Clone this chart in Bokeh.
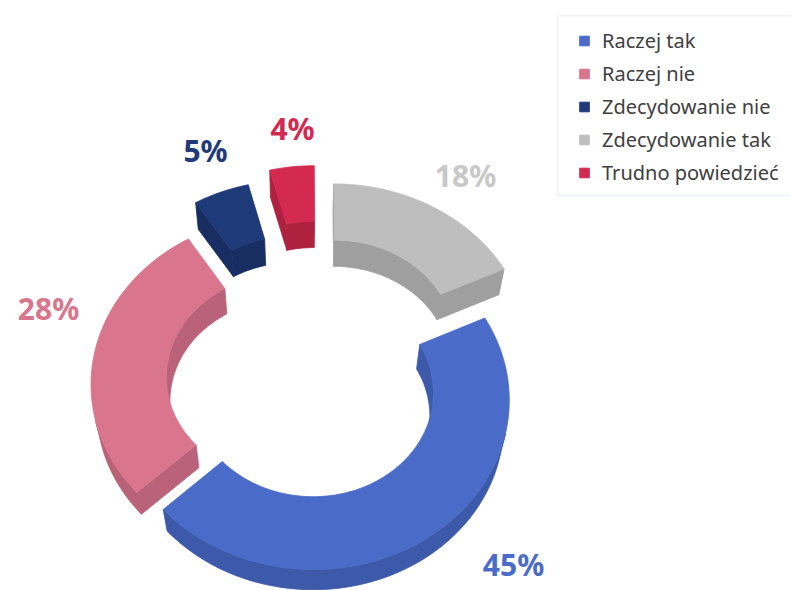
import numpy as np
from bokeh.plotting import figure
from bokeh.models import Range1d, Legend, LegendItem, ColumnDataSource, BoxAnnotation
from bokeh.embed import file_html
from bokeh.resources import INLINE
from bokeh.core.properties import value

# ---------------- data ----------------
categories = ["Raczej tak", "Raczej nie", "Zdecydowanie nie", "Zdecydowanie tak", "Trudno powiedzieć"]
shares = [45, 28, 5, 18, 4]
pct_labels = ["45%", "28%", "5%", "18%", "4%"]
ring_order = [3, 0, 1, 2, 4]          # clockwise from 12 o'clock

# ---------------- style ----------------
top_colors = ["#4a6cc8", "#d9768d", "#1f3a78", "#bebebe", "#d42a52"]
side_colors = ["#3d59a9", "#b9627a", "#182e62", "#9f9f9f", "#b0213f"]
text_colors = ["#4a6cc8", "#d9768d", "#1f3a78", "#c8c8c8", "#d42a52"]
explode = [(12, -18), (-14, 0), (-8, 48), (36, 43), (15, 68)]     # world units
label_pos = [(513, 564), (48, 308), (205, 150), (465, 175), (292, 128)]  # page px

W, H = 791, 590
CX, CY = 300.0, 372.0
R_OUT, R_IN = 195.0, 120.0
TILT = np.radians(59)
SIN, COS = np.sin(TILT), np.cos(TILT)
DIST = 1500.0
DEPTH = 48.0
START = 0.0


def project(X, Y, Z):
    k = DIST / (DIST + Y * COS - Z * SIN)
    return CX + X * k, CY - (Y * SIN + Z * COS) * k


def ring_pts(t, rho, ox, oy, z):
    rad = np.radians(t)
    return project(rho * np.sin(rad) + ox, rho * np.cos(rad) + oy, z)


def signed_area(xs, ys):
    xs = np.asarray(xs); ys = np.asarray(ys)
    return 0.5 * np.sum(xs * np.roll(ys, -1) - np.roll(xs, -1) * ys)


def wall_polys(t, rho, ox, oy, sign):
    xt, yt = ring_pts(t, rho, ox, oy, 0.0)
    xb, yb = ring_pts(t, rho, ox, oy, -DEPTH)
    n = len(t) - 1
    vis = []
    for j in range(n):
        qx = [xt[j], xt[j + 1], xb[j + 1], xb[j]]
        qy = [yt[j], yt[j + 1], yb[j + 1], yb[j]]
        vis.append(sign * signed_area(qx, qy) > 0)
    polys = []
    j = 0
    while j < n:
        if vis[j]:
            k = j
            while k < n and vis[k]:
                k += 1
            px = list(xt[j:k + 1]) + list(xb[j:k + 1][::-1])
            py = list(yt[j:k + 1]) + list(yb[j:k + 1][::-1])
            polys.append((px, py))
            j = k
        else:
            j += 1
    return polys


def cap_poly(t, ox, oy):
    pts = [ring_pts(np.array([t]), R_OUT, ox, oy, 0.0),
           ring_pts(np.array([t]), R_IN, ox, oy, 0.0),
           ring_pts(np.array([t]), R_IN, ox, oy, -DEPTH),
           ring_pts(np.array([t]), R_OUT, ox, oy, -DEPTH)]
    return [float(q[0][0]) for q in pts], [float(q[1][0]) for q in pts]


# angular spans from the data
total = float(sum(shares))
spans = {}
a = START
for i in ring_order:
    s = 360.0 * shares[i] / total
    spans[i] = (a, a + s)
    a += s


def depth_key(i):
    t0, t1 = spans[i]
    tm = np.radians((t0 + t1) / 2)
    return -(((R_OUT + R_IN) / 2) * np.cos(tm) + explode[i][1])


faces_x, faces_y, faces_c = [], [], []
for i in sorted(ring_order, key=depth_key):
    t0, t1 = spans[i]
    ox, oy = explode[i]
    t = np.linspace(t0, t1, max(int((t1 - t0) / 1.5), 2) + 1)
    side = side_colors[i]
    cx0, cy0 = cap_poly(t0, ox, oy)
    if signed_area(cx0, cy0) > 0:
        faces_x.append(cx0); faces_y.append(cy0); faces_c.append(side)
    cx1, cy1 = cap_poly(t1, ox, oy)
    if signed_area(cx1, cy1) < 0:
        faces_x.append(cx1); faces_y.append(cy1); faces_c.append(side)
    for px, py in wall_polys(t, R_IN, ox, oy, +1):
        faces_x.append(px); faces_y.append(py); faces_c.append(side)
    for px, py in wall_polys(t, R_OUT, ox, oy, -1):
        faces_x.append(px); faces_y.append(py); faces_c.append(side)
    xo, yo = ring_pts(t, R_OUT, ox, oy, 0.0)
    xi, yi = ring_pts(t[::-1], R_IN, ox, oy, 0.0)
    faces_x.append(list(xo) + list(xi))
    faces_y.append(list(yo) + list(yi))
    faces_c.append(top_colors[i])

faces_x = [[float(v) for v in f] for f in faces_x]
faces_y = [[float(v) for v in f] for f in faces_y]

p = figure(width=W, height=H, output_backend="svg", toolbar_location=None,
           x_range=Range1d(0, W), y_range=Range1d(H, 0),
           x_axis_location=None, y_axis_location=None, min_border=0,
           outline_line_color=None, background_fill_color="white")
p.grid.visible = False

p.add_layout(BoxAnnotation(left=557, right=820, top=15, bottom=195, fill_color="white",
                           fill_alpha=1.0, line_color="#d6dbe5", line_width=2, level="underlay"))

src = ColumnDataSource(dict(xs=faces_x, ys=faces_y, c=faces_c))
p.patches("xs", "ys", source=src, fill_color="c", line_color="c", line_width=0.8)

lsrc = ColumnDataSource(dict(x=[q[0] for q in label_pos], y=[q[1] for q in label_pos],
                             t=pct_labels, c=text_colors))
p.text("x", "y", text="t", source=lsrc, text_color="c", text_font=value("Noto Sans"),
       text_font_style="bold", text_font_size="30px", text_align="center",
       text_baseline="middle")

items = []
for i, cat in enumerate(categories):
    # legend swatch renderer: its single point lies outside the visible ranges
    r = p.scatter(x=[-1000], y=[-1000], marker="square", size=10, fill_color=top_colors[i],
                  line_color=top_colors[i])
    items.append(LegendItem(label=cat, renderers=[r]))

ROW, GAP = 27, 6
leg_h = 5 * ROW + 4 * GAP
legend = Legend(items=items, location=(572, H - (40 - ROW / 2) - leg_h), padding=0, spacing=GAP,
                label_height=ROW, glyph_height=ROW, glyph_width=24, label_standoff=6,
                label_text_font="Noto Sans", label_text_font_size="20px",
                label_text_color="#404040", border_line_alpha=0,
                background_fill_alpha=0)
p.add_layout(legend)

open("out.html", "w").write(file_html(p, INLINE))
